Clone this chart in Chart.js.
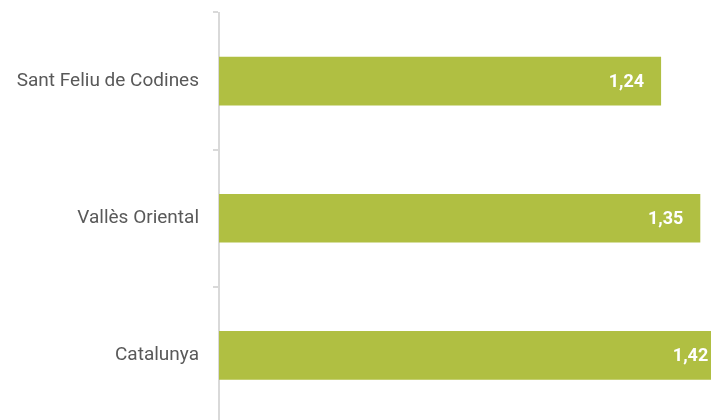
<!DOCTYPE html>
<html>
<head>
<meta charset="utf-8">
<script src="https://cdn.jsdelivr.net/npm/chart.js@4.4.1/dist/chart.umd.min.js"></script>
<style>
  html, body { margin: 0; padding: 0; background: #ffffff; overflow: hidden; }
  #c { display: block; }
</style>
</head>
<body>
<canvas id="c" width="711" height="420" style="width:711px;height:420px"></canvas>
<script>
const categories = ["Sant Feliu de Codines", "Vallès Oriental", "Catalunya"];
const values = [1.24, 1.35, 1.42];

const FONT = "Roboto, sans-serif";

const valueLabels = {
  id: 'valueLabels',
  afterDatasetsDraw(chart) {
    const ctx = chart.ctx;
    const meta = chart.getDatasetMeta(0);
    ctx.save();
    ctx.fillStyle = '#ffffff';
    ctx.font = "bold 18px " + FONT;
    ctx.textAlign = 'right';
    ctx.textBaseline = 'middle';
    meta.data.forEach((bar, i) => {
      const txt = values[i].toFixed(2).replace('.', ',');
      ctx.fillText(txt, bar.x - 17, bar.y + 1);
    });
    ctx.restore();
  }
};

// the plot area of the original runs a few pixels past the bottom edge of the picture
const extendBottom = {
  id: 'extendBottom',
  afterLayout(chart) {
    const y = chart.scales.y;
    const bottom = 424;
    chart.chartArea.bottom = bottom;
    chart.chartArea.height = bottom - chart.chartArea.top;
    y.bottom = bottom;
    y.height = bottom - y.top;
    y.configure();
  }
};

new Chart(document.getElementById('c'), {
  type: 'bar',
  data: {
    labels: categories,
    datasets: [{
      data: values,
      backgroundColor: '#b0bf42',
      borderWidth: 0,
      barPercentage: 0.355,
      categoryPercentage: 1.0
    }]
  },
  options: {
    indexAxis: 'y',
    responsive: false,
    animation: false,
    devicePixelRatio: 1,
    layout: { padding: { top: 12.5, right: 0, bottom: 0, left: 0 } },
    plugins: { legend: { display: false }, tooltip: { enabled: false } },
    scales: {
      x: {
        display: false,
        min: 0,
        max: 1.38
      },
      y: {
        afterFit(scale) {
          scale.width = 219;
          scale.paddingTop = 0;
          scale.paddingBottom = 0;
        },
        border: { display: true, color: '#d9d9d9', width: 2 },
        grid: {
          display: true,
          drawOnChartArea: false,
          drawTicks: true,
          tickLength: 6,
          color: '#d9d9d9',
          lineWidth: 2
        },
        ticks: {
          color: '#595959',
          padding: 14,
          font: { family: FONT, size: 19 }
        }
      }
    }
  },
  plugins: [valueLabels, extendBottom]
});
</script>
</body>
</html>
